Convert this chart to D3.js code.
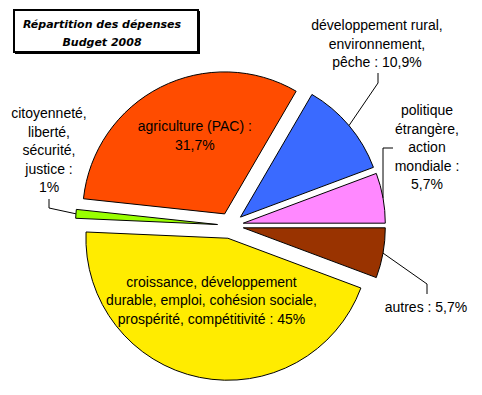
<!DOCTYPE html>
<html>
<head>
<meta charset="utf-8">
<script src="https://cdn.jsdelivr.net/npm/d3@7/dist/d3.min.js"></script>
<style>
body { margin: 0; background: #fff; }
svg { display: block; }
text { font-family: "Liberation Sans", Arial, sans-serif; font-size: 14px; fill: #000; }
.title text { font-family: "DejaVu Sans", Verdana, sans-serif; font-weight: bold; font-style: italic; font-size: 11px; }
</style>
</head>
<body>
<svg id="chart" width="482" height="395"></svg>
<script>
"use strict";

// data, in the order the slices run clockwise
var categories = ["agriculture (PAC)", "développement rural, environnement, pêche",
	"politique étrangère, action mondiale", "autres",
	"croissance, développement durable, emploi, cohésion sociale, prospérité, compétitivité",
	"citoyenneté, liberté, sécurité, justice"];
var values = [31.7, 10.9, 5.7, 5.7, 45, 1];
var labelLines = [
	["agriculture (PAC) :", "31,7%"],
	["développement rural,", "environnement,", "pêche : 10,9%"],
	["politique", "étrangère,", "action", "mondiale :", "5,7%"],
	["autres : 5,7%"],
	["croissance, développement", "durable, emploi, cohésion sociale,", "prospérité, compétitivité : 45%"],
	["citoyenneté,", "liberté,", "sécurité,", "justice :", "1%"]
];
var colors = ["#ff4c00", "#3a6aff", "#ff88ff", "#993300", "#ffec00", "#99ff00"];
var titleLines = ["Répartition des dépenses", "Budget 2008"];

var svg = d3.select("#chart");
var cx = 230.5, cy = 225.5, radius = 142, explode = 13;
var lineH = 18.5;
var deg = Math.PI / 180;

// pink/brown boundary sits at 3 o'clock
var startAngle = 90 * deg - 2 * Math.PI * d3.sum(values.slice(0, 3)) / d3.sum(values);
var pie = d3.pie().sort(null).value(d=>d)
	.startAngle(startAngle).endAngle(startAngle + 2 * Math.PI);
var arcs = pie(values);
var arc = d3.arc().innerRadius(0).outerRadius(radius);

function mid(d) { return (d.startAngle + d.endAngle) / 2; }
function polar(a, r) { return [Math.sin(a) * r, -Math.cos(a) * r]; }
function sliceOrigin(d) {
	let p = polar(mid(d), explode);
	return [cx + p[0], cy + p[1]];
}
// point on the outer edge, in the middle of the slice
function edgePoint(d) {
	let o = sliceOrigin(d), p = polar(mid(d), radius);
	return [o[0] + p[0], o[1] + p[1]];
}

var g = svg.append("g");
g.selectAll("path.slice")
	.data(arcs)
	.enter().append("path")
	.attr("class", "slice")
	.attr("transform", d=>`translate(${sliceOrigin(d)})`)
	.attr("d", arc)
	.attr("fill", (d, i)=>colors[i])
	.attr("stroke", "#000")
	.attr("stroke-width", 1);

// labels inside the slice: angle tweak and radius fraction
var inside = { 0: [6, 0.59], 4: [3.3, 0.45] };
// labels outside: first line centre, then leader elbows (from edge point outward)
var outside = {
	1: { x: 377, y: 25, path: [[378, 83], [378, 73]] },
	2: { x: 427, y: 110, path: [[383, 148], [393, 148]] },
	3: { x: 426, y: 307, path: [[427, 284], [427, 294]] },
	5: { x: 49, y: 113, path: [[49, 208], [49, 199]] }
};

var labels = svg.append("g");
arcs.forEach((d, i)=>{
	let lines = labelLines[i];
	let x, y;
	if (inside[i]) {
		let o = sliceOrigin(d);
		let p = polar(mid(d) + inside[i][0] * deg, radius * inside[i][1]);
		x = o[0] + p[0];
		y = o[1] + p[1] - (lines.length - 1) * lineH / 2;
	} else {
		let spec = outside[i];
		x = spec.x; y = spec.y;
		let pts = [edgePoint(d)].concat(spec.path);
		labels.append("path")
			.attr("d", d3.line()(pts))
			.attr("fill", "none")
			.attr("stroke", "#000")
			.attr("stroke-width", 1);
	}
	labels.selectAll(null)
		.data(lines)
		.enter().append("text")
		.attr("x", x)
		.attr("y", (t, k)=>y + k * lineH)
		.attr("dy", "0.36em")
		.attr("text-anchor", "middle")
		.text(t=>t);
});

// title box with a shadow
var title = svg.append("g").attr("class", "title");
title.append("rect")
	.attr("x", 15).attr("y", 11).attr("width", 185).attr("height", 43)
	.attr("fill", "#000");
title.append("rect")
	.attr("x", 14).attr("y", 10).attr("width", 184).attr("height", 42)
	.attr("fill", "#fff").attr("stroke", "#000").attr("stroke-width", 2);
title.selectAll("text")
	.data(titleLines)
	.enter().append("text")
	.attr("x", 102)
	.attr("y", (t, k)=>24 + k * 18)
	.attr("dy", "0.36em")
	.attr("text-anchor", "middle")
	.text(t=>t);
</script>
</body>
</html>
